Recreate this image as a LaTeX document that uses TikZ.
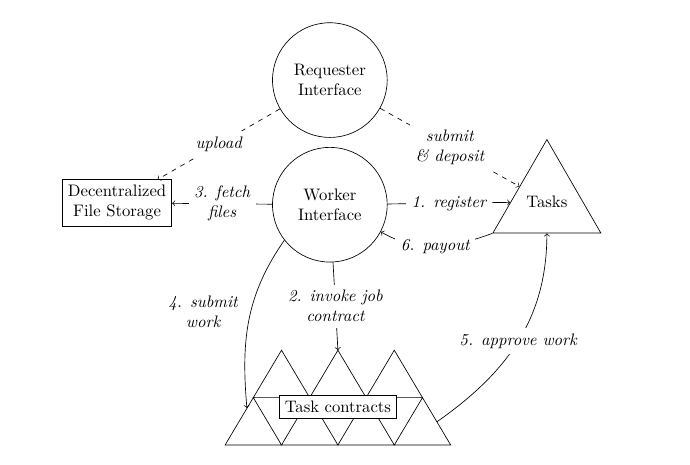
\documentclass[tikz,border=0pt]{standalone}
\usepackage{amsmath}
\usetikzlibrary{shapes.geometric}

\begin{document}
\begin{tikzpicture}[
    iface/.style={draw, circle, minimum size=2.42cm, align=center},
    lbl/.style={fill=white, align=center, font=\itshape},
    ]
    \useasboundingbox (0,0) rectangle (14.56,9.81);
    % Below nodes are the parties.
        \node[iface] (requester) at (6.96, 8.12) {Requester\\Interface};
        \node[iface] (worker) at (6.96, 5.49) {Worker\\Interface};
        \node[draw, align=center] (storage) at (2.47, 5.53) {Decentralized\\File Storage};
        \node[draw, regular polygon, regular polygon sides=3, inner sep=0pt, minimum size=2.63cm] (tasks) at (11.54, 5.55) {Tasks};
    % This draws the row of contract triangles.
        \draw (4.75,0.42) -- (5.94,0.42) -- (5.345,1.42) -- cycle;
        \draw (5.94,0.42) -- (7.13,0.42) -- (6.535,1.42) -- cycle;
        \draw (7.13,0.42) -- (8.32,0.42) -- (7.725,1.42) -- cycle;
        \draw (8.32,0.42) -- (9.51,0.42) -- (8.915,1.42) -- cycle;
        \draw (5.345,1.42) -- (6.535,1.42) -- (5.94,2.42) -- cycle;
        \draw (6.535,1.42) -- (7.725,1.42) -- (7.13,2.42) -- cycle;
        \draw (7.725,1.42) -- (8.915,1.42) -- (8.32,2.42) -- cycle;
        \node[draw, fill=white] (contracts) at (7.13, 1.23) {Task contracts};
        \coordinate (peak) at (7.13, 2.42);
        \coordinate (cleft) at (5.21, 1.20);
        \coordinate (cright) at (9.22, 0.91);
    % Dashed arrows from the requester.
        \draw[dashed, ->] (requester) -- node[lbl] {upload} (storage);
        \draw[dashed, ->] (requester) -- node[lbl] {submit\\\& deposit} (tasks);
    % The numbered steps.
        \draw[->] (worker) -- node[lbl] {1. register} (tasks);
        \draw[->] (worker) -- node[lbl] {2. invoke job\\contract} (peak);
        \draw[->] (worker) -- node[lbl] {3. fetch\\files} (storage);
        \draw[->] (worker.218) to[out=235, in=95] node[pos=0.45, left, xshift=-0.15cm, align=center, font=\itshape] {4. submit\\work} (cleft);
        \draw[->] (cright) to[out=35, in=-90] node[lbl] {5. approve work} (tasks.south);
        \draw[->] (tasks.corner 2) to[out=200, in=-30] node[lbl] {6. payout} (worker.-28);
\end{tikzpicture}
\end{document}
